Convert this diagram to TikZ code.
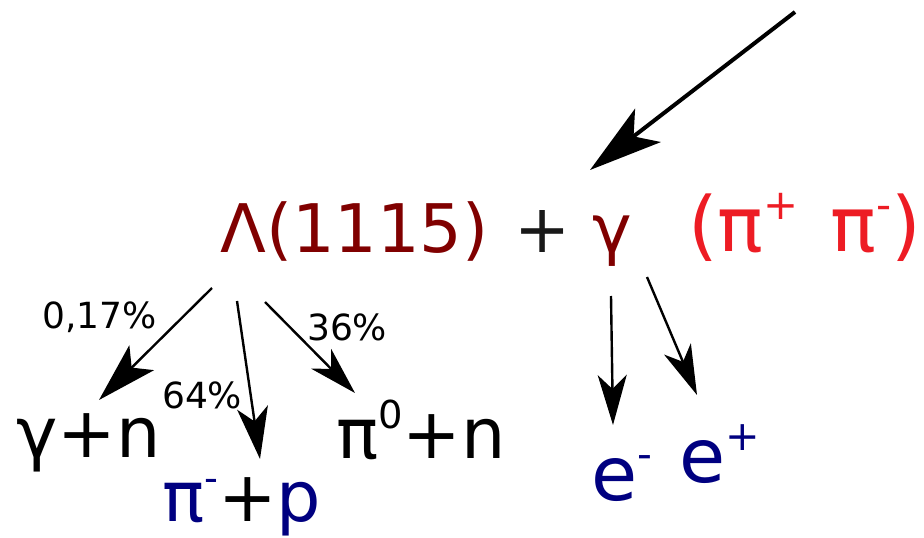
\documentclass[tikz,border=0pt]{standalone}
\usepackage{fontspec}
\usepackage{graphicx}
\setmainfont{DejaVu Sans}
\usetikzlibrary{arrows.meta}

\definecolor{lamred}{RGB}{128,0,0}
\definecolor{pired}{RGB}{237,28,36}
\definecolor{navy}{RGB}{0,0,128}

% raised small charge / index
\newcommand{\hi}[1]{\raisebox{.42em}{\scalebox{.55}{#1}}}

\tikzset{
    big/.style={inner sep=0pt, anchor=base west, font=\fontsize{67}{80}\selectfont},
    prod/.style={inner sep=0pt, anchor=base west, font=\fontsize{70}{84}\selectfont},
    ratio/.style={inner sep=0pt, anchor=base west, font=\fontsize{36}{42}\selectfont},
    decay/.style={line width=2.4pt},
    feed/.style={line width=4pt, -{Stealth[length=73pt,width=42pt,inset=18pt]}}
}

\begin{document}
\begin{tikzpicture}[x=1pt,y=-1pt]
    \useasboundingbox (0,0) rectangle (924,538);

    % reaction line
    \node[big, text=lamred] (lam) at (220,252) {Λ(1115)};
    \node[big, text=black!90] (plus) at (514,252) {+};
    \node[big, text=lamred] (gam) at (592,252) {γ};
    \node[big, text=pired, font=\fontsize{76}{90}\selectfont] (pions) at (688,251)
        {(π\hi{+}\hspace{32pt}π\hi{-})};

    % decay products
    \node[prod] (gn) at (16,457) {γ+n};
    \node[prod] (pip) at (162,521) {\textcolor{navy}{π\hi{-}}+\textcolor{navy}{p}};
    \node[prod] (pin) at (336,458) {π\hi{0}+n};
    \node[prod, text=navy, font=\fontsize{75}{90}\selectfont] (em) at (591,500) {e\hi{-}};
    \node[prod, text=navy, font=\fontsize{75}{90}\selectfont] (ep) at (679,482) {e\hi{+}};

    % branching ratios
    \node[ratio] (r1) at (42,328) {0,17\%};
    \node[ratio] (r2) at (162,408) {64\%};
    \node[ratio] (r3) at (307,340) {36\%};

    % arrow ends
    \coordinate (in) at (795,12);
    \coordinate (inTip) at (590,170);
    \coordinate (lamA) at (212,288);
    \coordinate (lamB) at (237,301);
    \coordinate (lamC) at (265,302);
    \coordinate (gamA) at (611,296);
    \coordinate (gamB) at (647,277);
    \coordinate (gnTip) at (99,400);
    \coordinate (pipTip) at (260,459);
    \coordinate (pinTip) at (355,393);
    \coordinate (emTip) at (613,425);
    \coordinate (epTip) at (697,395);

    % incoming
    \draw[feed] (in) -- (inTip);

    % decays
    \foreach \a/\b/\l/\w in {lamA/gnTip/60/35, lamB/pipTip/52/31, lamC/pinTip/48/28,
                             gamA/emTip/50/29, gamB/epTip/50/29}
        \draw[decay, -{Stealth[length=\l pt,width=\w pt,inset=14pt]}] (\a) -- (\b);

\end{tikzpicture}
\end{document}
